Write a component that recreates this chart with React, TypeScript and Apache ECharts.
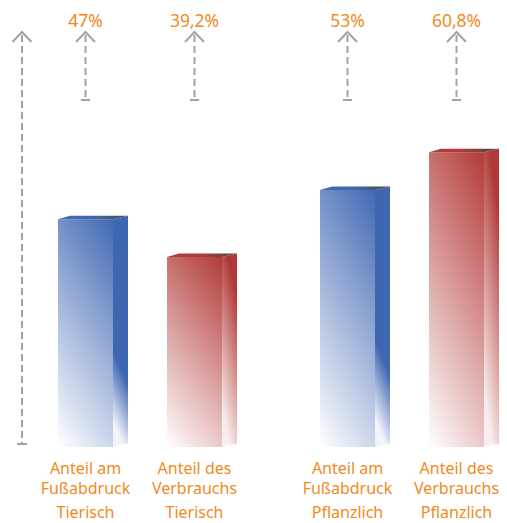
import React, { useEffect, useRef } from "react";
import * as echarts from "echarts";

// ---- data ----
const categoryLines: string[][] = [
  ["Anteil am", "Fußabdruck"],
  ["Anteil des", "Verbrauchs"],
];
const groups = ["Tierisch", "Pflanzlich"];
const valuesTierisch = [47, 39.2];
const valuesPflanzlich = [53, 60.8];
const yMax = 85;

const ORANGE = "#f08a1e";
const GRAY = "#a3a3a3";
const FONT = '"Noto Sans", sans-serif';

const STYLES = [
  { base: "#4169b3", side: "#3f66b0", light: "#f2f3fb", sideStart: 0.72, sideH: 0.45, sideV: 0.9 },
  { base: "#b23b38", side: "#b03836", light: "#f8eeed", sideStart: 0.2, sideH: 0.35, sideV: 0.85 },
];

const lg = (x: number, y: number, x2: number, y2: number, stops: [number, string][], global = false) =>
  new echarts.graphic.LinearGradient(
    x, y, x2, y2,
    stops.map(([offset, color]) => ({ offset, color })),
    global
  );

function renderBar(params: any, api: any) {
  const idx = api.value(0);
  const v = api.value(1);
  const s = STYLES[api.value(2)];
  const group = groups[api.value(3)];
  const p = api.coord([idx, v]);
  const p0 = api.coord([idx, 0]);
  const cx = p[0];
  const top = p[1];
  const bottom = p0[1];
  const hw = 27.5;
  const L = cx - hw;
  const R = cx + hw;
  const D = 15;
  const up = 3.5;
  const H = bottom - top;
  const w = R - L;

  // front gradient: t = a*dx/w + b*dy/H measured from top-right corner
  const gx = 0.27 / w;
  const gy = 0.73 / H;
  const n = gx * gx + gy * gy;
  const frontFill = lg(R, top, R - gx / n, top + gy / n, [
    [0, s.base],
    [1, "#ffffff"],
  ], true);

  // side gradient
  const sy0 = top + s.sideStart * H;
  const sgx = s.sideH / D;
  const sgy = s.sideV / (bottom - sy0);
  const sn = sgx * sgx + sgy * sgy;
  const sideFill = lg(R + D, sy0, R + D - sgx / sn, sy0 + sgy / sn, [
    [0, s.side],
    [1, s.light],
  ], true);

  const label = String(v).replace(".", ",") + "%";

  return {
    type: "group",
    children: [
      {
        type: "rect",
        shape: { x: L, y: top, width: w, height: H },
        style: { fill: frontFill },
      },
      {
        type: "polygon",
        shape: {
          points: [
            [R, top],
            [R + D, top - up],
            [R + D, bottom - up],
            [R, bottom],
          ],
        },
        style: { fill: sideFill },
      },
      {
        type: "polygon",
        shape: {
          points: [
            [L, top],
            [L + 12, top - up],
            [R + D, top - up],
            [R, top],
          ],
        },
        style: {
          fill: lg(0, 0, 1, 0, [
            [0, s.base],
            [0.45, s.base],
            [1, "#4a4a4a"],
          ]),
        },
      },
      {
        type: "text",
        x: cx,
        y: 20,
        style: {
          text: label,
          fill: ORANGE,
          font: `17.5px ${FONT}`,
          align: "center",
          verticalAlign: "middle",
        },
      },
      {
        type: "text",
        x: cx,
        y: bottom + 65,
        style: {
          text: group,
          fill: ORANGE,
          font: `16px ${FONT}`,
          align: "center",
          verticalAlign: "middle",
        },
      },
      {
        type: "line",
        shape: { x1: cx, y1: 35, x2: cx, y2: 100 },
        style: { stroke: GRAY, lineWidth: 2, lineDash: [7, 4] },
      },
      {
        type: "polyline",
        shape: {
          points: [
            [cx - 9.5, 42],
            [cx, 32],
            [cx + 9.5, 42],
          ],
        },
        style: { stroke: GRAY, lineWidth: 2, fill: null },
      },
      {
        type: "line",
        shape: { x1: cx - 4.5, y1: 100, x2: cx + 4.5, y2: 100 },
        style: { stroke: GRAY, lineWidth: 2 },
      },
    ],
  };
}

export default function App() {
  const ref = useRef<HTMLDivElement>(null);
  useEffect(() => {
    if (!ref.current) return;
    const chart = echarts.init(ref.current, undefined, { renderer: "svg" });

    const xAxisFor = (gridIndex: number) => ({
      type: "category",
      gridIndex,
      boundaryGap: false,
      data: categoryLines.map((l) => l.join(" ")),
      axisLine: { show: false },
      axisTick: { show: false },
      axisLabel: {
        interval: 0,
        margin: 11,
        formatter: (_v: string, i: number) =>
          `{a|${categoryLines[i][0]}}\n{a|${categoryLines[i][1]}}`,
        rich: {
          a: { color: ORANGE, fontFamily: FONT, fontSize: 16, lineHeight: 20 },
        },
      },
    });
    const yAxisFor = (gridIndex: number) => ({
      type: "value",
      gridIndex,
      min: 0,
      max: yMax,
      show: false,
      splitLine: { show: false },
    });

    chart.setOption({
      animation: false,
      grid: [
        { left: 85.5, width: 109, top: 35, height: 412 },
        { left: 347.5, width: 109, top: 35, height: 412 },
      ],
      xAxis: [xAxisFor(0), xAxisFor(1)],
      yAxis: [yAxisFor(0), yAxisFor(1)],
      series: [
        {
          type: "custom",
          xAxisIndex: 0,
          yAxisIndex: 0,
          data: valuesTierisch.map((v, i) => [i, v, i, 0]),
          renderItem: renderBar,
        },
        {
          type: "custom",
          xAxisIndex: 1,
          yAxisIndex: 1,
          data: valuesPflanzlich.map((v, i) => [i, v, i, 1]),
          renderItem: renderBar,
        },
      ],
      graphic: [
        {
          type: "polyline",
          shape: { points: [[12.5, 42], [22, 32], [31.5, 42]] },
          style: { stroke: GRAY, lineWidth: 2, fill: null },
        },
        {
          type: "line",
          shape: { x1: 22, y1: 35, x2: 22, y2: 444 },
          style: { stroke: GRAY, lineWidth: 2, lineDash: [7, 4] },
        },
        {
          type: "line",
          shape: { x1: 17, y1: 444, x2: 27, y2: 444 },
          style: { stroke: GRAY, lineWidth: 2 },
        },
      ],
    });
    return () => chart.dispose();
  }, []);
  return (
    <div
      ref={ref}
      style={{ position: "absolute", left: 0, top: 0, width: 507, height: 523 }}
    />
  );
}
